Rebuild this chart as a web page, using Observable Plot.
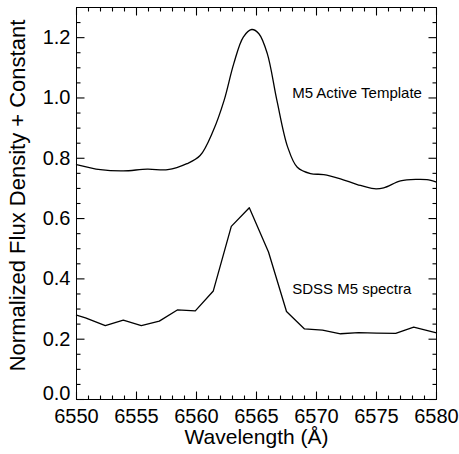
<!DOCTYPE html>
<html>
<head>
<meta charset="utf-8">
<script src="https://cdn.jsdelivr.net/npm/d3@7"></script>
<script src="https://cdn.jsdelivr.net/npm/@observablehq/plot@0.6"></script>
<style>
  html, body { margin: 0; padding: 0; background: #fff; }
  svg { font-family: "Liberation Sans", Arial, Helvetica, sans-serif; }
</style>
</head>
<body>
<div id="chart"></div>
<script>
// M5 Active Template (smooth)
const templateWave = [6550, 6552, 6553.9, 6555.9, 6557.6, 6559.2, 6560.3, 6561.4, 6562.3, 6563.1, 6563.9, 6564.6, 6565.2, 6565.9, 6566.7, 6567.6, 6568.4, 6569.5, 6570.6, 6572, 6573.4, 6574.8, 6575.6, 6577, 6578.4, 6579.2, 6580];
const templateFlux = [0.779, 0.762, 0.758, 0.764, 0.762, 0.782, 0.809, 0.892, 0.992, 1.113, 1.202, 1.227, 1.213, 1.147, 0.992, 0.837, 0.770, 0.749, 0.746, 0.732, 0.713, 0.699, 0.702, 0.725, 0.730, 0.729, 0.721];

// SDSS M5 spectra
const sdssWave = [6550, 6550.75, 6552.4, 6553.9, 6555.4, 6556.9, 6558.4, 6559.9, 6561.4, 6562.9, 6564.4, 6566, 6567.5, 6569, 6570.5, 6572, 6573.5, 6575, 6576.6, 6578.1, 6580];
const sdssFlux = [0.280, 0.271, 0.245, 0.263, 0.245, 0.260, 0.297, 0.294, 0.360, 0.574, 0.636, 0.489, 0.292, 0.234, 0.230, 0.218, 0.222, 0.220, 0.219, 0.240, 0.221];

const xMajor = [6550, 6555, 6560, 6565, 6570, 6575, 6580];
const xMinor = [6551, 6552, 6553, 6554, 6556, 6557, 6558, 6559, 6561, 6562, 6563, 6564, 6566, 6567, 6568, 6569, 6571, 6572, 6573, 6574, 6576, 6577, 6578, 6579];
const yMajor = [0.2, 0.4, 0.6, 0.8, 1.0, 1.2];
const yZero = [0];
const yMinor = [0.05, 0.1, 0.15, 0.25, 0.3, 0.35, 0.45, 0.5, 0.55, 0.65, 0.7, 0.75, 0.85, 0.9, 0.95, 1.05, 1.1, 1.15, 1.25];

const labelNames = ["M5 Active Template", "SDSS M5 spectra"];
const labelX = [6567.97, 6567.97];
const labelY = [1.015, 0.367];

const template = templateWave.map((w, i) => ({w, f: templateFlux[i]}));
const sdss = sdssWave.map((w, i) => ({w, f: sdssFlux[i]}));
const labels = labelNames.map((t, i) => ({t, x: labelX[i], y: labelY[i]}));

const xDomain = [6550, 6580];
const yDomain = [0, 1.3];

const font = "Liberation Sans, Arial, Helvetica, sans-serif";
const W = 459, H = 454, ML = 76, MR = 23, MT = 7, MB = 55;
const PW = W - ML - MR, PH = H - MT - MB;
const majorLen = 8, minorLen = 4;
// pixel length -> data length
const kx = (xDomain[1] - xDomain[0]) / PW;
const ky = (yDomain[1] - yDomain[0]) / PH;

// tick segments as plain data rows
function xTickRows(vals, len) {
  const rows = [];
  for (const v of vals) {
    rows.push({x1: v, x2: v, y1: yDomain[0], y2: yDomain[0] + len * ky});
    rows.push({x1: v, x2: v, y1: yDomain[1], y2: yDomain[1] - len * ky});
  }
  return rows;
}
function yTickRows(vals, len) {
  const rows = [];
  for (const v of vals) {
    rows.push({y1: v, y2: v, x1: xDomain[0], x2: xDomain[0] + len * kx});
    rows.push({y1: v, y2: v, x1: xDomain[1], x2: xDomain[1] - len * kx});
  }
  return rows;
}
const tickRows = [
  ...xTickRows(xMajor, majorLen), ...xTickRows(xMinor, minorLen),
  ...yTickRows([0, ...yMajor], majorLen), ...yTickRows(yMinor, minorLen)
];

const chart = Plot.plot({
  width: W,
  height: H,
  marginLeft: ML,
  marginRight: MR,
  marginTop: MT,
  marginBottom: MB,
  style: {fontFamily: font, background: "#fff", color: "#000"},
  x: {domain: xDomain},
  y: {domain: yDomain},
  marks: [
    Plot.frame({fill: "none", stroke: "#000", strokeWidth: 1}),
    // inward ticks on all four sides
    Plot.link(tickRows, {x1: "x1", y1: "y1", x2: "x2", y2: "y2", stroke: "#000", strokeWidth: 1.1}),
    // tick labels
    Plot.axisX(xMajor, {anchor: "bottom", tickSize: 0, tickPadding: 9, tickFormat: d3.format("d"), fontSize: 20, fill: "#000", label: null}),
    Plot.axisY(yMajor, {anchor: "left", tickSize: 0, tickPadding: 6, tickFormat: d3.format(".1f"), fontSize: 20, fill: "#000", label: null}),
    Plot.axisY(yZero, {anchor: "left", tickSize: 0, tickPadding: 6, dy: -6, tickFormat: d3.format(".1f"), fontSize: 20, fill: "#000", label: null}),
    // axis titles
    Plot.text(["Wavelength (Å)"], {frameAnchor: "bottom", dy: 38, fontSize: 21, fill: "#000", textAnchor: "middle", lineAnchor: "middle"}),
    Plot.text(["Normalized Flux Density + Constant"], {frameAnchor: "left", dx: -59, dy: -8, rotate: -90, fontSize: 22, fill: "#000", textAnchor: "middle", lineAnchor: "middle"}),
    // data
    Plot.line(template, {x: "w", y: "f", curve: "catmull-rom", stroke: "#000", strokeWidth: 1.3}),
    Plot.line(sdss, {x: "w", y: "f", stroke: "#000", strokeWidth: 1.3}),
    Plot.text(labels, {x: "x", y: "y", text: "t", textAnchor: "start", fontSize: 15, fill: "#000"})
  ]
});
document.getElementById("chart").appendChild(chart);
</script>
</body>
</html>
